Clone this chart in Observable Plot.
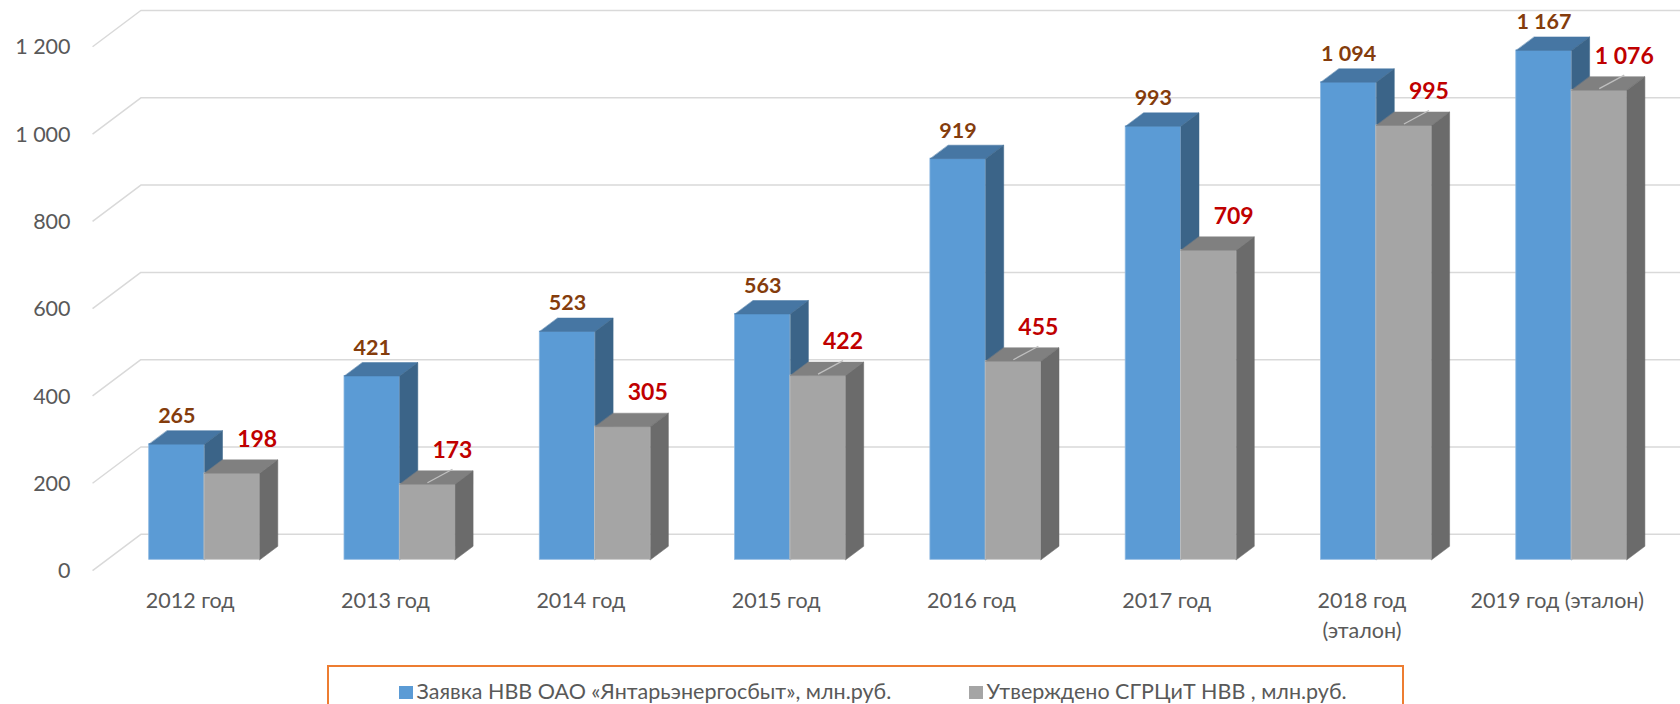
<!DOCTYPE html>
<html><head><meta charset="utf-8">
<script src="https://cdn.jsdelivr.net/npm/d3@7"></script>
<script src="https://cdn.jsdelivr.net/npm/@observablehq/plot@0.6"></script>
<style>
html,body{margin:0;padding:0;background:#fff;overflow:hidden;}
#chart svg{display:block}
.legend{position:relative;box-sizing:border-box;margin-left:327px;width:1077px;height:60px;margin-top:1px;border:2px solid #ED7D31;font-family:Lato,"Open Sans",sans-serif;font-size:21.5px;color:#595959;line-height:26px}
.item{position:absolute;top:11px;display:flex;align-items:center;white-space:nowrap}
.sw{width:14px;height:13px;margin-right:4px;margin-top:2px}
</style></head>
<body><div id="chart"></div><div class="legend" id="legend"></div>
<script>
// ---- data ----
const categories = ["2012 год","2013 год","2014 год","2015 год","2016 год","2017 год","2018 год (эталон)","2019 год (эталон)"];
const categoryLabels = ["2012 год","2013 год","2014 год","2015 год","2016 год","2017 год","2018 год\n(эталон)","2019 год (эталон)"];
const zayavka = [265, 421, 523, 563, 919, 993, 1094, 1167];
const utverzhdeno = [198, 173, 305, 422, 455, 709, 995, 1076];
const seriesNames = ["Заявка НВВ ОАО «Янтарьэнергосбыт», млн.руб.", "Утверждено СГРЦиТ НВВ , млн.руб."];
const yTicks = [0, 200, 400, 600, 800, 1000, 1200];
const yTickLabels = ["0", "200", "400", "600", "800", "1 000", "1 200"];
const leaderCategories = ["2013 год","2015 год","2016 год","2018 год (эталон)","2019 год (эталон)"];

// ---- styling / geometry ----
const FONT = "Lato, 'Open Sans', sans-serif";
const W = 1680, H = 664, mL = 106.35, mR = 11.25, mT = 35.5, mB = 104.7;
const X0 = -0.5, X1 = 7.5, YMAX = 1200;
const pxX = (W - mL - mR) / (X1 - X0);
const pxY = (H - mT - mB) / YMAX;
const BAR = 55.3 / pxX;
const DEPTH = 18, FRONT = -14.3, BACK = 34;
const off = t => ({dx: t / pxX, dy: 0.75 * t / pxY});
const fmt = d3.formatLocale({decimal: ",", thousands: " ", grouping: [3], currency: ["", ""]}).format(",d");

const colors = [
  {front: "#5B9BD5", top: "#4676A3", side: "#3B6488", edge: "#8DB8E2"},
  {front: "#A5A5A5", top: "#808080", side: "#6B6B6B", edge: "#C4C4C4"}
];
const legendPos = [69.5, 639.5]; // swatch offsets inside the legend box (px)

const bars = categories.flatMap((c, i) => [
  {i, s: 0, v: zayavka[i], x1: i - BAR, x2: i},
  {i, s: 1, v: utverzhdeno[i], x1: i, x2: i + BAR}
]);
const d = off(DEPTH);
const topPts = bars.flatMap((b, k) => [[b.x1, b.v], [b.x2, b.v], [b.x2 + d.dx, b.v + d.dy], [b.x1 + d.dx, b.v + d.dy]]
  .map(([x, y]) => ({k, s: b.s, x, y})));
const sidePts = bars.flatMap((b, k) => [[b.x2, 0], [b.x2 + d.dx, d.dy], [b.x2 + d.dx, b.v + d.dy], [b.x2, b.v]]
  .map(([x, y]) => ({k, s: b.s, x, y})));

const fOff = off(FRONT), bOff = off(BACK);
const gridPts = yTicks.flatMap(v => [
  {v, x: X0 + fOff.dx, y: v + fOff.dy},
  {v, x: X0 + bOff.dx, y: v + bOff.dy},
  {v, x: X1 + 1, y: v + bOff.dy}
]);

const leaderBars = bars.filter(b => b.s === 1 && leaderCategories.includes(categories[b.i]));

const marks = [
  Plot.line(gridPts, {x: "x", y: "y", z: "v", stroke: "#D9D9D9", strokeWidth: 1.5, strokeLinecap: "butt"})
];
for (const s of [0, 1]) {
  const c = colors[s];
  marks.push(
    Plot.rect(bars.filter(b => b.s === s), {x1: "x1", x2: "x2", y1: () => 0, y2: "v", fill: c.front, stroke: c.edge, strokeWidth: 0.8}),
    Plot.line(topPts.filter(p => p.s === s), {x: "x", y: "y", z: "k", fill: c.top, stroke: c.top, strokeWidth: 0.5, curve: "linear-closed"}),
    Plot.line(sidePts.filter(p => p.s === s), {x: "x", y: "y", z: "k", fill: c.side, stroke: c.side, strokeWidth: 0.5, curve: "linear-closed"})
  );
}
marks.push(
  Plot.link(leaderBars, {
    x1: b => b.i + BAR / 2, y1: b => b.v + 1.5 / pxY,
    x2: b => b.i + BAR / 2 + 25 / pxX, y2: b => b.v + 15 / pxY,
    stroke: "#BFBFBF", strokeWidth: 1.25
  }),
  Plot.text(bars.filter(b => b.s === 0), {
    x: b => b.i - BAR / 2, y: "v", text: b => fmt(b.v), dy: -28,
    fill: "#843C0C", fontWeight: "bold", fontSize: 21.5, fontFamily: FONT
  }),
  Plot.text(bars.filter(b => b.s === 1), {
    x: b => b.i + BAR / 2, y: "v", text: b => fmt(b.v), dx: 25, dy: -34,
    fill: "#C00000", fontWeight: "bold", fontSize: 23, fontFamily: FONT
  }),
  Plot.text(yTicks, {
    x: () => X0, y: v => v, text: (v, i) => yTickLabels[i], textAnchor: "end",
    dx: -36.3, dy: 11.5, fill: "#595959", fontSize: 21.5, fontFamily: FONT
  }),
  Plot.text(categories, {
    x: (c, i) => i, y: () => 0, text: (c, i) => categoryLabels[i], dx: FRONT, dy: 27,
    lineAnchor: "top", lineHeight: 1.4, fill: "#595959", fontSize: 21.5, fontFamily: FONT
  })
);

const chart = Plot.plot({
  width: W, height: H,
  marginLeft: mL, marginRight: mR, marginTop: mT, marginBottom: mB,
  x: {type: "linear", domain: [X0, X1], axis: null},
  y: {type: "linear", domain: [0, YMAX], axis: null},
  style: {fontFamily: FONT, background: "#fff", overflow: "visible"},
  marks
});
document.getElementById("chart").append(chart);

const legend = document.getElementById("legend");
seriesNames.forEach((name, s) => {
  const item = document.createElement("div");
  item.className = "item";
  item.style.left = legendPos[s] + "px";
  const sw = document.createElement("span");
  sw.className = "sw";
  sw.style.background = colors[s].front;
  const t = document.createElement("span");
  t.textContent = name;
  item.append(sw, t);
  legend.append(item);
});
</script>
</body></html>
